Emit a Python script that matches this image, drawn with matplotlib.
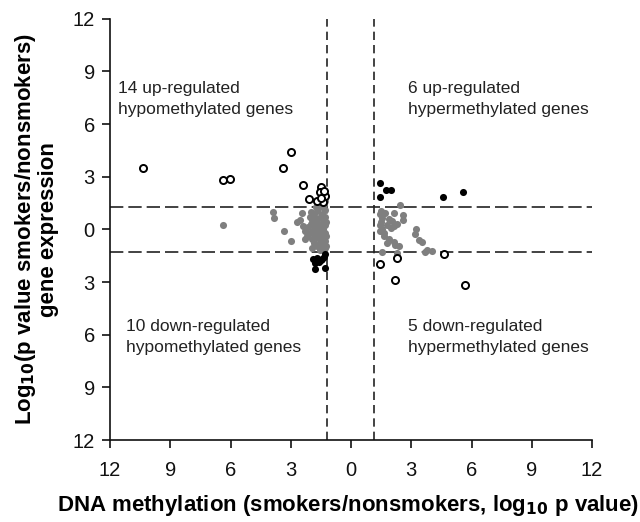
import matplotlib
matplotlib.use("Agg")
import matplotlib.pyplot as plt
from matplotlib.ticker import FuncFormatter

plt.rcParams['font.family'] = ['Liberation Sans', 'DejaVu Sans']

# --- data (x: methylation, y: expression) ---
# hypomethylated, up-regulated (open circles)
up_hypo_x = [-10.35, -6.37, -6.03, -3.40, -2.98, -2.40, -2.11, -1.51, -1.56, -1.31,
             -1.42, -1.70, -1.35, -1.48]
up_hypo_y = [3.50, 2.79, 2.89, 3.50, 4.41, 2.54, 1.74, 2.41, 2.12, 1.93,
             1.55, 1.62, 2.20, 1.80]

# hypomethylated, down-regulated (filled black)
down_hypo_x = [-1.89, -1.68, -1.51, -1.34, -1.28, -1.81, -1.61, -1.78, -1.28, -1.45]
down_hypo_y = [-1.70, -1.60, -1.75, -1.56, -1.41, -1.89, -1.83, -2.27, -2.18, -1.68]

# hypermethylated, up-regulated (filled black)
up_hyper_x = [1.46, 1.46, 1.74, 2.01, 4.59, 5.56]
up_hyper_y = [2.64, 1.87, 2.22, 2.22, 1.87, 2.16]

# hypermethylated, down-regulated (open circles)
down_hyper_x = [1.46, 2.29, 2.18, 4.64, 5.69]
down_hyper_y = [-1.95, -1.60, -2.90, -1.41, -3.19]

# not significant (grey)
ns_x = [-6.37, -3.90, -3.82, -3.32, -2.98, -2.68, -2.56, -2.45, -2.31, -2.28,
        -2.06, -1.98, -1.90, -1.95, -2.15, -2.40, -2.20,
        -1.30, -1.42, -1.35, -1.55, -1.30, -1.70, -1.45, -1.85, -1.30, -1.60,
        -1.40, -1.75, -1.30, -1.55, -1.85, -1.40, -1.65, -1.30, -1.50, -1.80,
        -1.40, -1.65, -1.30, -1.55, -1.85, -1.40, -1.70, -1.30, -1.55, -1.35,
        -1.45, -1.60, -1.30, -1.50, -1.75, -2.00, -1.95, -2.05, -1.95,
        -1.25, -1.25, -1.25, -1.70, -1.50, -1.80,
        2.46, 1.51, 1.71, 2.13, 2.58, 1.55, 1.89, 2.06, 2.59, 1.46,
        1.79, 2.13, 1.55, 1.98, 1.46, 1.63, 3.25, 3.21, 3.38, 3.51,
        1.79, 2.13, 2.21, 2.41, 1.55, 2.29, 3.68, 3.80, 4.02, 1.46,
        1.65, 1.90, 1.50, 2.30]
ns_y = [0.27, 0.97, 0.63, -0.07, -0.65, 0.40, 0.54, 0.92, -0.07, -0.55,
        0.73, 0.31, -0.10, -0.55, 0.15, 0.20, -0.35,
        1.95, 1.70, 1.45, 1.25, 1.10, 1.05, 0.90, 0.85, 0.70, 0.65,
        0.45, 0.45, 0.25, 0.20, 0.15, 0.00, -0.05, -0.20, -0.25, -0.30,
        -0.45, -0.50, -0.65, -0.75, -0.75, -0.90, -0.95, -1.05, -1.15, -1.25,
        1.55, 1.45, 1.60, 1.85, 1.25, 1.00, 0.55, -0.20, -1.05,
        0.45, -0.40, -0.95, 0.25, -0.60, 0.65,
        1.40, 1.03, 0.95, 0.92, 0.84, 0.66, 0.57, 0.48, 0.54, 0.28,
        0.28, 0.19, 0.00, 0.10, -0.09, -0.19, 0.04, -0.25, -0.58, -0.69,
        -0.78, -0.69, -0.88, -0.93, -1.28, -1.34, -1.26, -1.18, -1.22, 0.85,
        -0.40, -0.55, 0.40, 0.30]

meth_cut = [-1.2, 1.15]
expr_cut = [-1.3, 1.3]
ticks = [-12, -9, -6, -3, 0, 3, 6, 9, 12]

fig = plt.figure(figsize=(6.4, 5.22), dpi=100)
ax = fig.add_axes([0.172, 0.157, 0.753, 0.807])

ax.scatter(ns_x, ns_y, s=26, color='#7f7f7f', linewidths=0, zorder=2)
ax.scatter(down_hypo_x, down_hypo_y, s=26, color='black', linewidths=0, zorder=3)
ax.scatter(up_hyper_x, up_hyper_y, s=26, color='black', linewidths=0, zorder=3)
ax.scatter(up_hypo_x, up_hypo_y, s=26, facecolor='white', edgecolor='black', linewidths=1.4, zorder=4)
ax.scatter(down_hyper_x, down_hyper_y, s=26, facecolor='white', edgecolor='black', linewidths=1.4, zorder=4)

for x in meth_cut:
    ax.axvline(x, color='#222222', lw=1.2, dashes=(5, 3), zorder=1)
for y in expr_cut:
    ax.axhline(y, color='#222222', lw=1.2, dashes=(8, 3), zorder=1)

txt = dict(fontsize=12.5, va='top', ha='left', linespacing=1.5, color='#222222')
ax.text(-11.6, 8.45, "14 up-regulated\nhypomethylated genes", **txt)
ax.text(2.83, 8.45, "6 up-regulated\nhypermethylated genes", **txt)
ax.text(-11.2, -5.1, "10 down-regulated\nhypomethylated genes", **txt)
ax.text(2.83, -5.1, "5 down-regulated\nhypermethylated genes", **txt)

ax.set_xlim(-12, 12)
ax.set_ylim(-12, 12)
ax.set_xticks(ticks)
ax.set_yticks(ticks)
fmt = FuncFormatter(lambda v, p: f"{abs(int(round(v)))}")
ax.xaxis.set_major_formatter(fmt)
ax.yaxis.set_major_formatter(fmt)
ax.tick_params(direction='out', length=6, width=1.2, labelsize=14.5, colors='#111111')
ax.tick_params(axis='x', pad=9)
ax.tick_params(axis='y', pad=5)

for s in ['top', 'right']:
    ax.spines[s].set_visible(False)
for s in ['left', 'bottom']:
    ax.spines[s].set_linewidth(1.2)
    ax.spines[s].set_color('#111111')

ax.set_xlabel("DNA methylation (smokers/nonsmokers, log$_{\\mathbf{10}}$ p value)",
              fontsize=16, fontweight='bold')
ax.set_ylabel("Log$_{\\mathbf{10}}$(p value smokers/nonsmokers)\ngene expression",
              fontsize=16, fontweight='bold', linespacing=1.05)
ax.yaxis.set_label_coords(-0.105, 0.5)
ax.xaxis.set_label_coords(0.494, -0.125)

plt.savefig("out.png", dpi=100)
